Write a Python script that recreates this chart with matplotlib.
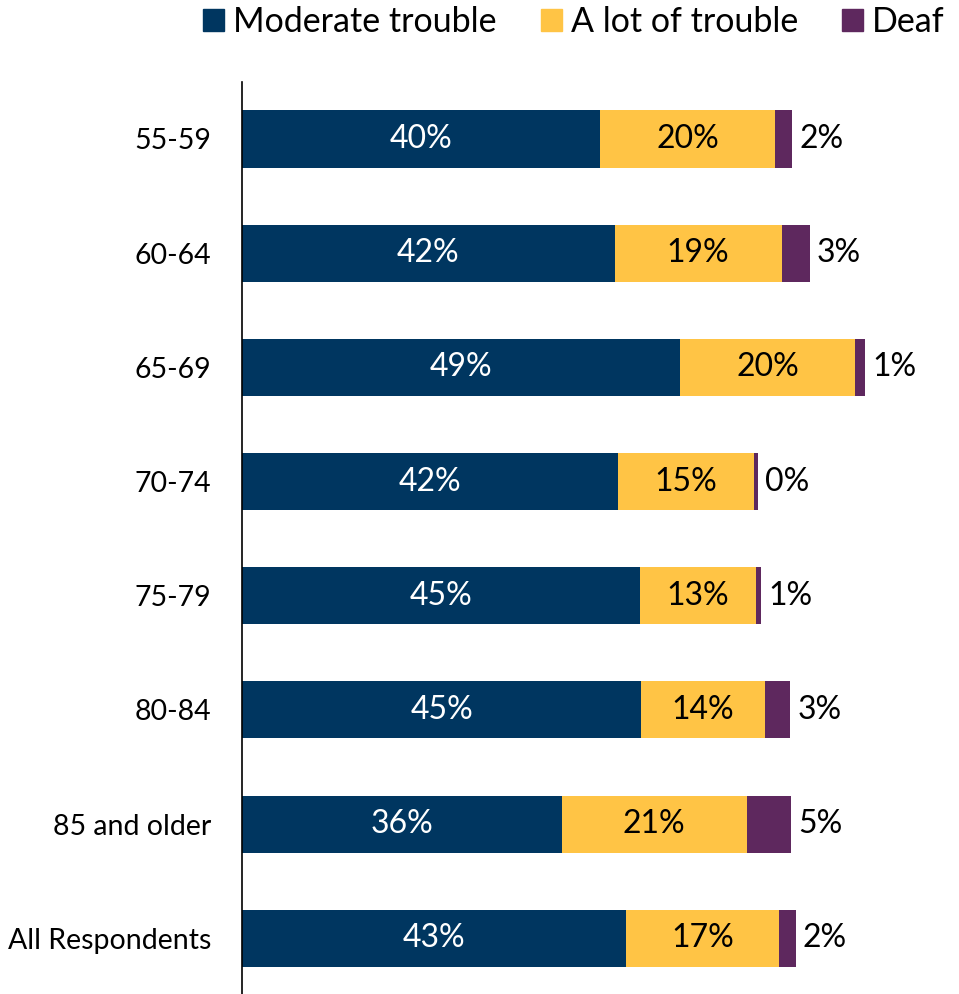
import matplotlib
matplotlib.use("Agg")
import matplotlib.pyplot as plt
from matplotlib.patches import Patch

plt.rcParams["font.family"] = ["Lato", "DejaVu Sans"]

# 听力困难程度（按年龄段，百分比）
groups = ["55-59", "60-64", "65-69", "70-74", "75-79", "80-84", "85 and older", "All Respondents"]
moderate = [40.3, 42.0, 49.4, 42.4, 44.9, 45.0, 36.0, 43.3]
a_lot = [19.8, 18.8, 19.7, 15.3, 13.0, 13.9, 20.9, 17.2]
deaf = [1.9, 3.2, 1.1, 0.45, 0.6, 2.9, 5.0, 1.9]

series_names = ["Moderate trouble", "A lot of trouble", "Deaf"]
colors = ["#003660", "#FFC445", "#5E285E"]

fig = plt.figure(figsize=(9.59, 9.94), dpi=100)
ax = fig.add_axes([242 / 959, -0.0014, (952 - 242) / 959, 0.919])

y = list(range(len(groups)))
left2 = [m for m in moderate]
left3 = [m + a for m, a in zip(moderate, a_lot)]

ax.barh(y, moderate, height=0.5, color=colors[0])
ax.barh(y, a_lot, left=left2, height=0.5, color=colors[1])
ax.barh(y, deaf, left=left3, height=0.5, color=colors[2])

# 数值标签
for i in y:
    ax.text(moderate[i] / 2, i, f"{moderate[i]:.0f}%", ha="center", va="center",
            color="white", fontsize=23)
    ax.text(left2[i] + a_lot[i] / 2, i, f"{a_lot[i]:.0f}%", ha="center", va="center",
            color="black", fontsize=23)
    ax.annotate(f"{deaf[i]:.0f}%", xy=(left3[i] + deaf[i], i), xytext=(5, 0),
                textcoords="offset points", ha="left", va="center",
                color="black", fontsize=23)

ax.set_xlim(0, 80)
ax.set_ylim(7.5, -0.5)
ax.set_yticks(y)
ax.set_yticklabels(groups, fontsize=20.5)
ax.tick_params(axis="y", length=0, pad=22)
ax.set_xticks([])
for s in ["top", "right", "bottom"]:
    ax.spines[s].set_visible(False)
ax.spines["left"].set_color("black")
ax.spines["left"].set_linewidth(1.2)

handles = [Patch(color=c, label=n) for c, n in zip(colors, series_names)]
fig.legend(handles=handles, loc="center left", bbox_to_anchor=(203 / 959, 1 - 22 / 994),
           ncol=3, frameon=False, fontsize=24.5, handlelength=0.62, handleheight=0.62,
           handletextpad=0.26, columnspacing=1.3, borderpad=0, borderaxespad=0)

fig.savefig("out.png", dpi=100)
